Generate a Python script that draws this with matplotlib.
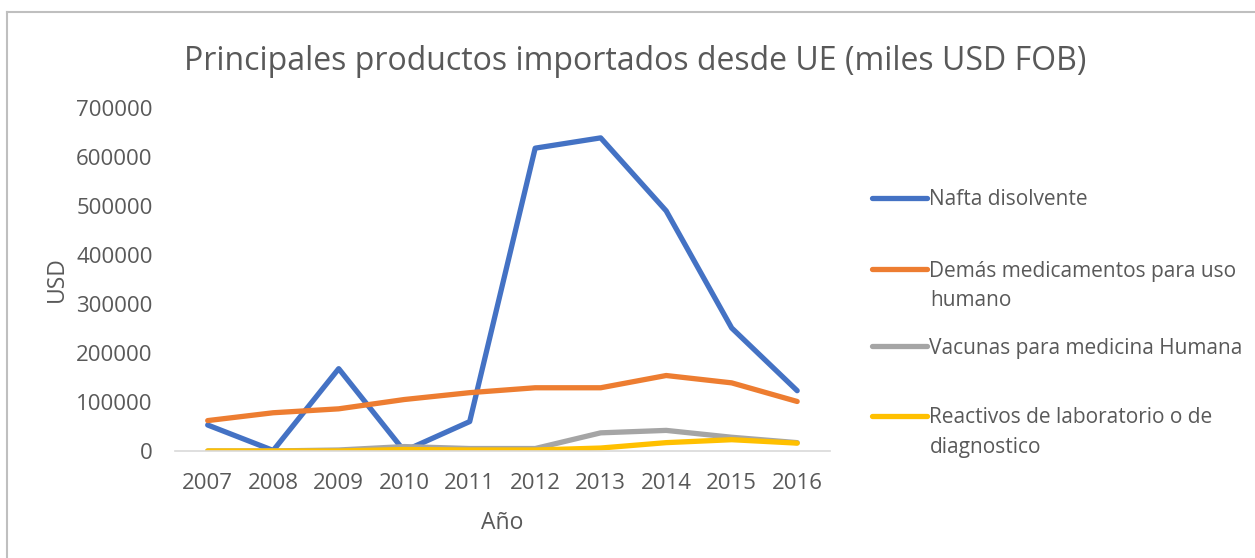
import matplotlib.pyplot as plt
from matplotlib.lines import Line2D

plt.rcParams["font.family"] = ["Open Sans", "DejaVu Sans"]

years = ["2007", "2008", "2009", "2010", "2011", "2012", "2013", "2014", "2015", "2016"]
nafta = [53000, 1000, 168000, 0, 60000, 618000, 639000, 490000, 251000, 123000]
medicamentos = [62000, 78000, 86000, 105000, 119000, 129000, 129000, 154000, 139000, 101000]
vacunas = [0, 0, 2000, 9000, 5000, 5000, 37000, 42000, 28000, 17000]
reactivos = [0, 0, 0, 3000, 2000, 2000, 6000, 17000, 23000, 16000]

series = [
    (["Nafta disolvente"], nafta, "#4472C4"),
    (["Demás medicamentos para uso", "humano"], medicamentos, "#ED7D31"),
    (["Vacunas para medicina Humana"], vacunas, "#A5A5A5"),
    (["Reactivos de laboratorio o de", "diagnostico"], reactivos, "#FFC000"),
]
legend_y = [0.6416, 0.5143, 0.3763, 0.2509]

fig = plt.figure(figsize=(12.55, 5.58), dpi=100)
ax = fig.add_axes([0.1394, 0.1918, 0.5219, 0.6147])

x = range(len(years))
lines = []
for label, vals, color in series:
    ln, = ax.plot(x, vals, color=color, lw=3.8, label=" ".join(label),
                  solid_capstyle="round", solid_joinstyle="round")
    lines.append(ln)

ax.set_xlim(-0.5, len(years) - 0.5)
ax.set_ylim(0, 700000)
ax.set_xticks(list(x))
ax.set_xticklabels(years)
ax.set_yticks(range(0, 700001, 100000))
ax.tick_params(length=0, labelsize=16, colors="#595959")
ax.tick_params(axis="x", pad=16)
ax.tick_params(axis="y", pad=16)
for s in ["top", "right", "left"]:
    ax.spines[s].set_visible(False)
ax.spines["bottom"].set_color("#D9D9D9")
ax.spines["bottom"].set_linewidth(1.2)

ax.set_xlabel("Año", fontsize=16.5, color="#595959", labelpad=12)
ax.set_ylabel("USD", fontsize=16.5, color="#595959", labelpad=5)

fig.text(0.506, 0.89, "Principales productos importados desde UE (miles USD FOB)",
         ha="center", va="center", fontsize=23, color="#595959")

# legend: one entry per series, second line of long labels as extra text
for (label, vals, color), ln, ly in zip(series, lines, legend_y):
    leg = fig.legend(handles=[ln], labels=[label[0]], loc="center left",
                     bbox_to_anchor=(0.6948, ly), frameon=False, borderpad=0,
                     borderaxespad=0, fontsize=15, handlelength=2.65,
                     handletextpad=0.1, labelcolor="#595959")
    if len(label) > 1:
        fig.text(0.741, ly - 0.0537, label[1], ha="left", va="center",
                 fontsize=15, color="#595959")

# outer chart border (top and left visible)
fig.add_artist(Line2D([0.0056, 1.0], [0.979, 0.979], color="#BFBFBF", lw=1.5, transform=fig.transFigure))
fig.add_artist(Line2D([0.0056, 0.0056], [0.0, 0.979], color="#BFBFBF", lw=1.5, transform=fig.transFigure))

fig.savefig("out.png", dpi=100)
